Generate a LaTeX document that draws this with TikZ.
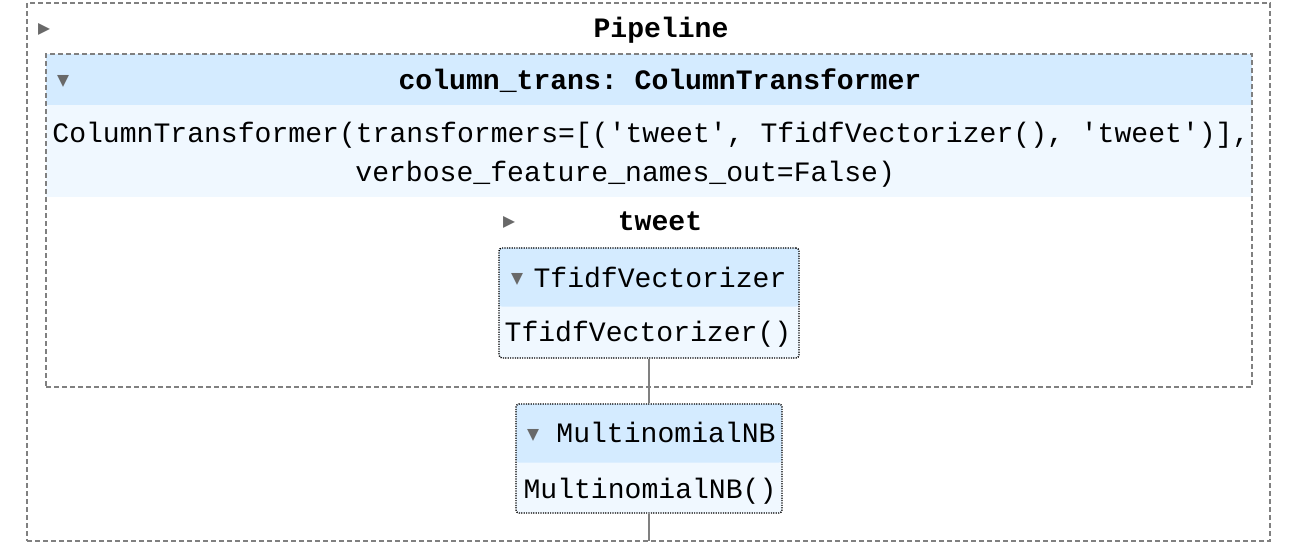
\documentclass[tikz,border=0pt]{standalone}
\usepackage{fontspec}
\setmonofont{Liberation Mono}
\newfontfamily\symfont{DejaVu Sans}
\usepackage{tikz}
\usetikzlibrary{calc}
\definecolor{headblue}{HTML}{D4EBFF}
\definecolor{bodyblue}{HTML}{F0F8FF}
\definecolor{linegray}{HTML}{808080}
\definecolor{togglegray}{HTML}{696969}

\begin{document}
\begin{tikzpicture}[x=0.5pt,y=-0.5pt]
				    \tikzstyle{monotext}=[inner sep=0pt,anchor=base,font=\ttfamily\fontsize{14.05}{16}\selectfont]
				    \tikzstyle{boldtext}=[monotext,font=\ttfamily\bfseries\fontsize{14.05}{16}\selectfont]
				    \tikzstyle{toggle}=[inner sep=0pt,text=togglegray,font=\symfont\fontsize{7.8}{8}\selectfont]
				    \tikzstyle{pipebox}=[draw=linegray,line width=.6pt,dash pattern=on 2.5pt off 1.5pt,inner sep=0pt]
				    \tikzstyle{ctbox}=[pipebox,path picture={
				        \fill[headblue] (path picture bounding box.north west) rectangle ([yshift=-25.5pt]path picture bounding box.north east);
				        \fill[bodyblue] ([yshift=-25.5pt]path picture bounding box.north west) rectangle ([yshift=-71.5pt]path picture bounding box.north east);}]
				    \tikzstyle{estbox}=[draw=black,line width=.7pt,dash pattern=on .6pt off .6pt,rounded corners=1.5pt,fill=bodyblue,inner sep=0pt,path picture={
				        \fill[headblue] (path picture bounding box.north west) rectangle ([yshift=-29.3pt]path picture bounding box.north east);}]
				    \tikzstyle{edge}=[draw,line width=.7pt,-,linegray]
				    \useasboundingbox (0,0) rectangle (1314,556);
				    \node[pipebox,minimum width=621.5pt,minimum height=269pt] (pipeline) at (648.5,272) {};
				    \node[ctbox,minimum width=603pt,minimum height=166.5pt] (coltrans) at (649,220.5) {};
				    \node[estbox,minimum width=150pt,minimum height=55pt] (tfidf) at (649,303) {};
				    \node[estbox,minimum width=133pt,minimum height=54.5pt] (mnb) at (649,458.5) {};
				    \coordinate (pipeend) at (649,541);
				    \draw[edge] (tfidf) -- (mnb);
				    \draw[edge] (mnb) -- (pipeend);
				    \node[toggle] (pipetoggle) at (44,29) {▶};
				    \node[boldtext] (pipetitle) at (661,38) {Pipeline};
				    \node[toggle] (cttoggle) at (63,81) {▼};
				    \node[boldtext] (cttitle) at (660,90) {column\_trans: ColumnTransformer};
				    \node[monotext,anchor=base west] (ctline1) at (52,143) {ColumnTransformer(transformers=[('tweet', TfidfVectorizer(), 'tweet')],};
				    \node[monotext,anchor=base west] (ctline2) at (355,182) {verbose\_feature\_names\_out=False)};
				    \node[toggle] (tweettoggle) at (509,222) {▶};
				    \node[boldtext] (tweettitle) at (660,231) {tweet};
				    \node[toggle] (tfidftoggle) at (517,279) {▼};
				    \node[monotext] (tfidftitle) at (660,288) {TfidfVectorizer};
				    \node[monotext] (tfidfbody) at (648,342) {TfidfVectorizer()};
				    \node[toggle] (mnbtoggle) at (533,435) {▼};
				    \node[monotext] (mnbtitle) at (666,443) {MultinomialNB};
				    \node[monotext] (mnbbody) at (650,498) {MultinomialNB()};
				\end{tikzpicture}
\end{document}
